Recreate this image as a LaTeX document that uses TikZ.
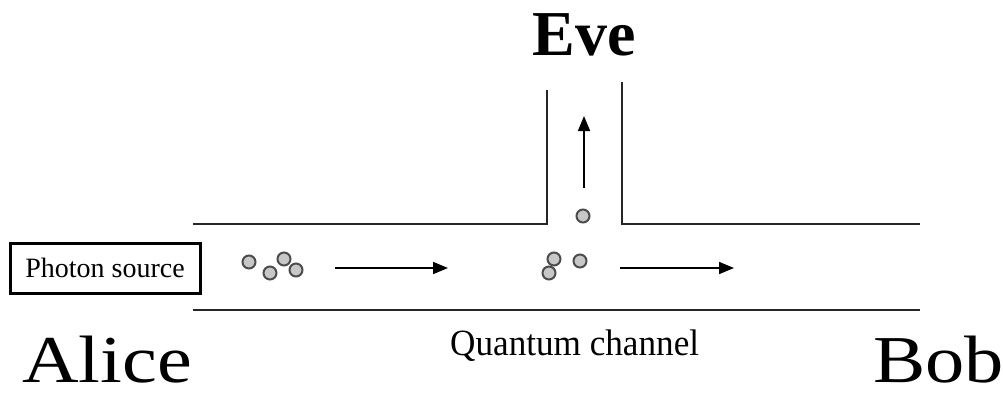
\documentclass[tikz,border=0pt]{standalone}
\usepackage{fontspec}
\setmainfont{Liberation Serif}
\usetikzlibrary{arrows.meta}
\tikzset{
  wall/.style={line width=1.7pt, black!85},
  photon/.style={circle, draw=black!70, fill=black!22, line width=2pt, minimum size=13pt, inner sep=0pt},
  flow/.style={line width=1.7pt, -{Triangle[length=15pt,width=12pt]}},
  srcbox/.style={draw, line width=3pt, minimum width=190pt, minimum height=50pt, inner sep=0pt, font=\fontsize{28}{30}\selectfont},
  bigname/.style={anchor=base west, inner sep=0pt, xscale=1.17, font=\fontsize{67}{70}\selectfont}
}
\begin{document}
\begin{tikzpicture}[x=1pt,y=-1pt]
\useasboundingbox (0,0) rectangle (1003,392);
% channel walls
\coordinate (tl) at (193,224);
\coordinate (el) at (547,224);
\coordinate (elt) at (547,90);
\coordinate (ert) at (622,82);
\coordinate (er) at (622,224);
\coordinate (tr) at (920,224);
\coordinate (bl) at (193,310);
\coordinate (br) at (920,310);
\draw[wall] (tl) -- (el) -- (elt);
\draw[wall] (ert) -- (er) -- (tr);
\draw[wall] (bl) -- (br);
% source
\node[srcbox] (src) at (105,268) {Photon source};
% photons at source
\node[photon] (p1) at (249,262) {};
\node[photon] (p2) at (270,273) {};
\node[photon] (p3) at (284,259) {};
\node[photon] (p4) at (296,270) {};
% arrow 1
\coordinate (a1s) at (335,268);
\coordinate (a1e) at (448,268);
\draw[flow] (a1s) -- (a1e);
% photons at Eve
\node[photon] (q1) at (554,259) {};
\node[photon] (q2) at (549,273) {};
\node[photon] (q3) at (580,261) {};
\node[photon] (q4) at (583,216) {};
% arrow 2
\coordinate (a2s) at (620,268);
\coordinate (a2e) at (734,268);
\draw[flow] (a2s) -- (a2e);
% vertical arrow
\coordinate (vs) at (584,188);
\coordinate (ve) at (584,116);
\draw[flow] (vs) -- (ve);
% labels
\node[anchor=base, inner sep=0pt, font=\fontsize{64}{68}\selectfont\bfseries] (eve) at (584,55) {Eve};
\node[bigname] (alice) at (22,382) {Alice};
\node[bigname] (bob) at (873,382) {Bob};
\node[anchor=base west, inner sep=0pt, xscale=0.95, font=\fontsize{37}{40}\selectfont] (qc) at (450,355) {Quantum channel};
\end{tikzpicture}
\end{document}
